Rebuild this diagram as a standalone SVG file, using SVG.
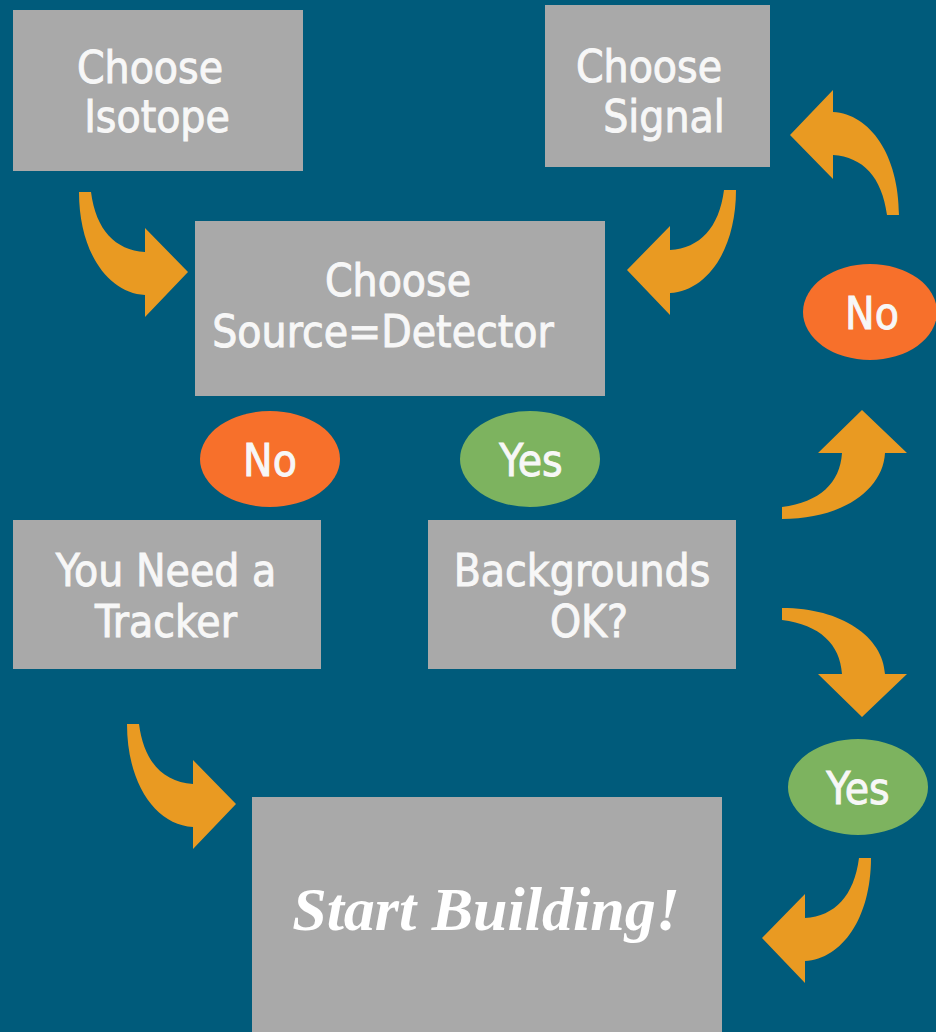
<svg xmlns="http://www.w3.org/2000/svg" width="936" height="1032" viewBox="0 0 936 1032">
<style>
.box{fill:#a9a9a9}
.t{font-family:"DejaVu Sans Condensed","DejaVu Sans",sans-serif;font-size:44px;fill:#f7f7f7;stroke:#f7f7f7;stroke-width:0.9;text-anchor:middle}
.no{fill:#f7702b}
.yes{fill:#7db35f}
.arr{fill:#e99a22}
.script{font-family:"Liberation Serif",serif;font-style:italic;font-weight:bold;font-size:62px;fill:#ffffff;text-anchor:middle}
</style>
<defs>
<path id="ca" d="M79,192 L91,192 C96,230 115,250 145,252 L145,228 L188,272 L145,317 L145,295 C108,293 79,252 79,192 Z"/>
</defs>
<rect width="936" height="1032" fill="#005b7b"/>
<g id="connectors">
<use href="#ca" class="arr"/>
<use href="#ca" class="arr" transform="translate(48,532)"/>
<use href="#ca" class="arr" transform="translate(815,-2) scale(-1,1)"/>
<use href="#ca" class="arr" transform="translate(950,666) scale(-1,1)"/>
<use href="#ca" class="arr" transform="translate(978,407) scale(-1,-1)"/>
<use href="#ca" class="arr" transform="matrix(0,-1,1,0,590,598)"/>
<use href="#ca" class="arr" transform="matrix(0,1,1,0,590,529)"/>
</g>
<g id="isotope"><rect class="box" x="13" y="10" width="290" height="161"/><text class="t" x="150" y="83">Choose</text><text class="t" x="157" y="132">Isotope</text></g>
<g id="signal"><rect class="box" x="545" y="5" width="225" height="162"/><text class="t" x="649" y="82">Choose</text><text class="t" x="664" y="132">Signal</text></g>
<g id="source"><rect class="box" x="195" y="221" width="410" height="175"/><text class="t" x="398" y="296">Choose</text><text class="t" x="383" y="347">Source=Detector</text></g>
<g id="no1"><ellipse class="no" cx="270" cy="459" rx="70" ry="48"/><text class="t" x="270" y="476">No</text></g>
<g id="yes1"><ellipse class="yes" cx="530" cy="459" rx="70" ry="48"/><text class="t" x="531" y="476">Yes</text></g>
<g id="tracker"><rect class="box" x="13" y="520" width="308" height="149"/><text class="t" x="166" y="586">You Need a</text><text class="t" x="166" y="637">Tracker</text></g>
<g id="backgrounds"><rect class="box" x="428" y="520" width="308" height="149"/><text class="t" x="582" y="586">Backgrounds</text><text class="t" x="589" y="637">OK?</text></g>
<g id="no2"><ellipse class="no" cx="870" cy="312" rx="67" ry="48"/><text class="t" x="872" y="329">No</text></g>
<g id="yes2"><ellipse class="yes" cx="858" cy="787" rx="70" ry="48"/><text class="t" x="858" y="804">Yes</text></g>
<g id="start"><rect class="box" x="252" y="797" width="470" height="235"/><text class="script" x="486" y="930">Start Building!</text></g>
</svg>
